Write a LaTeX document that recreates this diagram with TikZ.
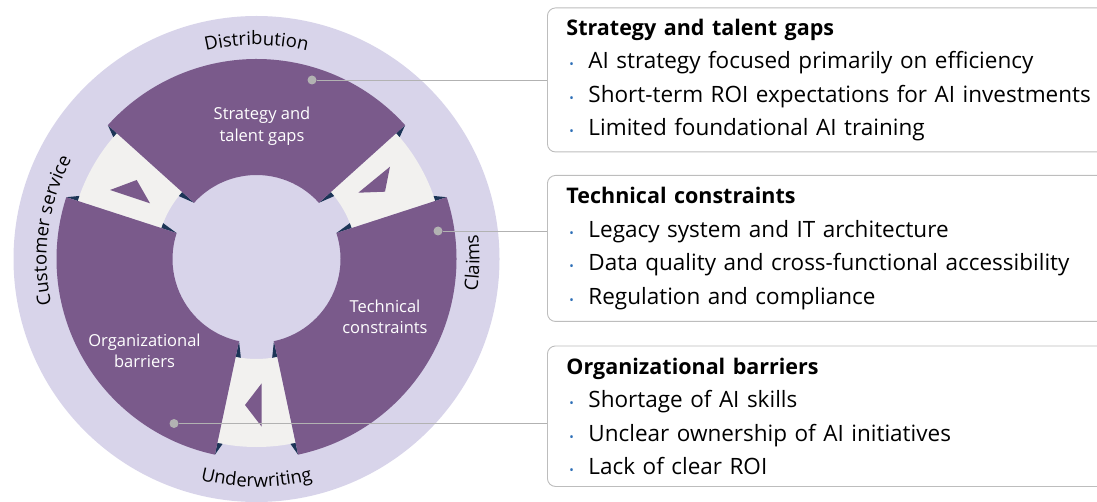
\documentclass[tikz,border=0pt]{standalone}
\usepackage{fontspec}
\setmainfont{Open Sans}
\usepackage{xcolor}
\usepackage{tikz}
\usetikzlibrary{decorations.text}

\definecolor{ringlav}{HTML}{D8D4EA}
\definecolor{segpurple}{HTML}{7A5A8B}
\definecolor{gapgray}{HTML}{F2F1EF}
\definecolor{foldnavy}{HTML}{1C3557}
\definecolor{beadgray}{HTML}{B2B2B2}
\definecolor{boxgray}{HTML}{BDBDBD}
\definecolor{dotblue}{HTML}{2E6FB7}

\newcommand{\ringfont}{\fontsize{18.5}{18.5}\selectfont}
\newcommand{\boxhead}[1]{{\fontsize{21.5}{33.5}\selectfont\textbf{#1}}}
\newcommand{\bitem}[1]{\makebox[22pt][l]{\hspace{3pt}\textcolor{dotblue}{\fontsize{12}{12}\selectfont\textbullet}}#1}

\begin{document}
\begin{tikzpicture}[
        x=1pt, y=1pt,
        seg/.style={fill=segpurple},
        gap/.style={fill=gapgray},
        fold/.style={fill=foldnavy},
        seglabel/.style={text=white, align=center, font=\fontsize{16.5}{21.5}\selectfont},
        bead/.style={circle, fill=beadgray, inner sep=0pt, minimum size=9pt},
        leader/.style={draw=beadgray, line width=0.9pt},
        infobox/.style={rectangle, draw=boxgray, line width=0.9pt, rounded corners=8pt, fill=white,
            anchor=north west, text width=542pt, inner xsep=19pt, align=left,
            font=\fontsize{22.5}{33.5}\selectfont},
        curved/.style={decorate, decoration={text along path, text align=center}}
    ]
        \useasboundingbox (0,0) rectangle (1097,501);
        \clip (0,0) rectangle (1097,501);
        \coordinate (C) at (256.5,242);

        % Ring
        \fill[ringlav] (C) circle (243);
        \foreach \g [evaluate=\g as \ga using \g-12, evaluate=\g as \gb using \g+12] in {30,150,270}
            \fill[gap] ([shift={(C)}]\ga:100) arc[start angle=\ga, end angle=\gb, radius=100]
                -- ([shift={(C)}]\gb:188) arc[start angle=\gb, end angle=\ga, radius=188] -- cycle;
        \foreach \e/\s [evaluate=\e as \ei using \e+3*\s, evaluate=\e as \eo using \e+1.6*\s] in {18/1,42/-1,138/1,162/-1,258/1,282/-1} {
            \fill[fold] ([shift={(C)}]\e:84) -- ([shift={(C)}]\e:100) -- ([shift={(C)}]\ei:100) -- cycle;
            \fill[fold] ([shift={(C)}]\e:200) -- ([shift={(C)}]\e:188) -- ([shift={(C)}]\eo:188) -- cycle;
        }
        \foreach \a/\b in {42/138,162/258,282/378}
            \fill[seg] ([shift={(C)}]\a:84) arc[start angle=\a, end angle=\b, radius=84]
                -- ([shift={(C)}]\b:200) arc[start angle=\b, end angle=\a, radius=200] -- cycle;

        % Arrow heads in the gaps
        \fill[seg] (110,311) -- (136.7,321) -- (150,297.7) -- cycle;
        \fill[seg] (358.3,308.3) -- (390,334.3) -- (385,309.3) -- cycle;
        \fill[seg] (245,96) -- (261.7,117.7) -- (261.7,74.3) -- cycle;

        % Ring labels
        \path[curved, decoration={text={|\ringfont|Distribution}}]
            ([shift={(C)}]130:214) arc[start angle=130, end angle=50, radius=214];
        \path[curved, decoration={text={|\ringfont|Underwriting}}]
            ([shift={(C)}]230:228) arc[start angle=230, end angle=310, radius=228];
        \path[curved, decoration={text={|\ringfont|Customer service}}]
            ([shift={(C)}]212:210) arc[start angle=212, end angle=132, radius=210];
        \path[curved, decoration={text={|\ringfont|Claims}}]
            ([shift={(C)}]-41:223) arc[start angle=-41, end angle=39, radius=223];

        % Segment labels
        \node[seglabel] (strategy) at (262,375) {Strategy and\\talent gaps};
        \node[seglabel] (technical) at (385,184) {Technical\\constraints};
        \node[seglabel] (organizational) at (144.5,150) {Organizational\\barriers};

        % Boxes
        \node[infobox, minimum height=144pt] (box1) at (547,493.5) {\boxhead{Strategy and talent gaps}\\
            \bitem{AI strategy focused primarily on efficiency}\\
            \bitem{Short-term ROI expectations for AI investments}\\
            \bitem{Limited foundational AI training}};
        \node[infobox, minimum height=146pt] (box2) at (547,326) {\boxhead{Technical constraints}\\
            \bitem{Legacy system and IT architecture}\\
            \bitem{Data quality and cross-functional accessibility}\\
            \bitem{Regulation and compliance}};
        \node[infobox, minimum height=140.5pt] (box3) at (547,155.5) {\boxhead{Organizational barriers}\\
            \bitem{Shortage of AI skills}\\
            \bitem{Unclear ownership of AI initiatives}\\
            \bitem{Lack of clear ROI}};

        % Leaders
        \node[bead] (dot1) at (312,421) {};
        \node[bead] (dot2) at (438,270) {};
        \node[bead] (dot3) at (174,77.5) {};
        \draw[leader] (dot1) -- (dot1 -| box1.west);
        \draw[leader] (dot2) -- (dot2 -| box2.west);
        \draw[leader] (dot3) -- (dot3 -| box3.west);
    \end{tikzpicture}
\end{document}
